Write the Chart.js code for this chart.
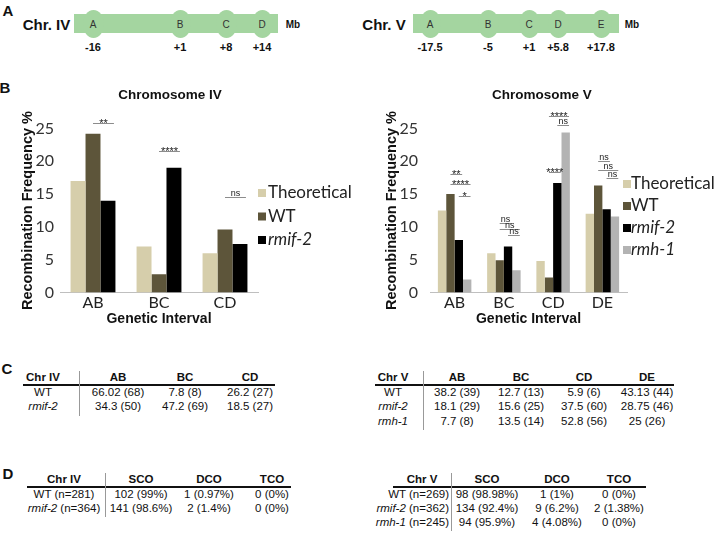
<!DOCTYPE html>
<html>
<head>
<meta charset="utf-8">
<script src="https://cdn.jsdelivr.net/npm/chart.js@4.4.1/dist/chart.umd.min.js"></script>
<style>
  body { margin: 0; background: #fff; }
  #fig { position: relative; width: 720px; height: 535px; overflow: hidden;
         font-family: "Liberation Sans", Arial, sans-serif; color: #111; }
  .lbl { position: absolute; transform: translate(-50%, -50%); white-space: nowrap; line-height: 1; }
  .right { transform: translate(-100%, -50%); }
  .box { position: absolute; }
  canvas { position: absolute; }
</style>
</head>
<body>
<div id="fig">
  <canvas id="chartIV" width="360" height="228" style="left:0;top:100px"></canvas>
  <canvas id="chartV" width="360" height="228" style="left:360px;top:100px"></canvas>
</div>
<script>
// --- Data ---
const intervalsIV = ['AB', 'BC', 'CD'];
const theoreticalIV = [17, 7, 6];
const wtIV = [24.2, 2.8, 9.6];
const rmif2IV = [14, 19, 7.4];

const intervalsV = ['AB', 'BC', 'CD', 'DE'];
const theoreticalV = [12.5, 6, 4.8, 12];
const wtV = [15, 4.9, 2.3, 16.3];
const rmif2V = [8, 7, 16.7, 12.7];
const rmh1V = [2, 3.4, 24.4, 11.6];

const yTicks = [0, 5, 10, 15, 20, 25];

// significance bars: interval index, dataset from/to, height in %, label
const sigIV = [
  { cat: 0, from: 1, to: 2, y: 25.9, text: '**' },
  { cat: 1, from: 1, to: 2, y: 21.6, text: '****' },
  { cat: 2, from: 1, to: 2, y: 14.5, text: 'ns' }
];
const sigV = [
  { cat: 0, from: 1, to: 2, y: 18.1, text: '**' },
  { cat: 0, from: 1, to: 3, y: 16.5, text: '****' },
  { cat: 0, from: 2, to: 3, y: 14.7, text: '*' },
  { cat: 1, from: 1, to: 2, y: 10.6, text: 'ns' },
  { cat: 1, from: 1, to: 3, y: 9.7, text: 'ns' },
  { cat: 1, from: 2, to: 3, y: 8.8, text: 'ns' },
  { cat: 2, from: 1, to: 3, y: 26.9, text: '****' },
  { cat: 2, from: 2, to: 3, y: 25.5, text: 'ns' },
  { cat: 2, from: 1, to: 2, y: 18.4, text: '****' },
  { cat: 3, from: 1, to: 2, y: 20.0, text: 'ns' },
  { cat: 3, from: 1, to: 3, y: 18.6, text: 'ns' },
  { cat: 3, from: 2, to: 3, y: 17.4, text: 'ns' }
];

const lociIV = ['A', 'B', 'C', 'D'];
const mbIV = ['-16', '+1', '+8', '+14'];
const lociV = ['A', 'B', 'C', 'D', 'E'];
const mbV = ['-17.5', '-5', '+1', '+5.8', '+17.8'];

const headCIV = ['Chr IV', 'AB', 'BC', 'CD'];
const rowsCIV = [
  ['WT', '66.02 (68)', '7.8 (8)', '26.2 (27)'],
  ['<i>rmif-2</i>', '34.3 (50)', '47.2 (69)', '18.5 (27)']
];
const headCV = ['Chr V', 'AB', 'BC', 'CD', 'DE'];
const rowsCV = [
  ['WT', '38.2 (39)', '12.7 (13)', '5.9 (6)', '43.13 (44)'],
  ['<i>rmif-2</i>', '18.1 (29)', '15.6 (25)', '37.5 (60)', '28.75 (46)'],
  ['<i>rmh-1</i>', '7.7 (8)', '13.5 (14)', '52.8 (56)', '25 (26)']
];
const headDIV = ['Chr IV', 'SCO', 'DCO', 'TCO'];
const rowsDIV = [
  ['WT (n=281)', '102 (99%)', '1 (0.97%)', '0 (0%)'],
  ['<i>rmif-2</i> (n=364)', '141 (98.6%)', '2 (1.4%)', '0 (0%)']
];
const headDV = ['Chr V', 'SCO', 'DCO', 'TCO'];
const rowsDV = [
  ['WT (n=269)', '98 (98.98%)', '1 (1%)', '0 (0%)'],
  ['<i>rmif-2</i> (n=362)', '134 (92.4%)', '9 (6.2%)', '2 (1.38%)'],
  ['<i>rmh-1</i> (n=245)', '94 (95.9%)', '4 (4.08%)', '0 (0%)']
];

// --- Colours ---
const C_THEO = '#d6ceab', C_WT = '#5d553a', C_RMIF = '#000000', C_RMH = '#b3b3b3';
const GREEN = '#a4d5a0';

const fig = document.getElementById('fig');

// --- HTML helpers ---
function label(html, cx, cy, css, cls) {
  const d = document.createElement('div');
  d.className = 'lbl' + (cls ? ' ' + cls : '');
  d.innerHTML = html;
  d.style.left = cx + 'px';
  d.style.top = cy + 'px';
  Object.assign(d.style, css || {});
  fig.appendChild(d);
  return d;
}
function box(x, y, w, h, css) {
  const d = document.createElement('div');
  d.className = 'box';
  Object.assign(d.style, { left: x + 'px', top: y + 'px', width: w + 'px', height: h + 'px' }, css);
  fig.appendChild(d);
}

// --- Panel letters ---
[['A', 8, 10], ['B', 5, 87], ['C', 7, 368], ['D', 8, 473]].forEach(([t, x, y]) =>
  label(t, x, y, { fontWeight: 'bold', fontSize: '15px' }));

// --- Panel A: chromosome schematics (not to scale) ---
function buildChrom(name, loci, mb, g) {
  label(name, g.nameX, 24, { fontWeight: 'bold', fontSize: '15px' });
  box(g.x0, 14, g.x1 - g.x0, 19, { background: GREEN });
  loci.forEach((l, i) => {
    box(g.pos[i] - 10.5, 9.5, 21, 28, { background: GREEN, borderRadius: '50%' });
    label(l, g.pos[i], 24.5, { fontSize: '10px', color: '#333' });
    label(mb[i], g.pos[i], 46.5, { fontSize: '11px', fontWeight: 'bold' });
  });
  label('Mb', g.mbX, 25, { fontSize: '10px', fontWeight: 'bold' });
}
buildChrom('Chr. IV', lociIV, mbIV, { nameX: 46.5, x0: 74, x1: 278, pos: [93, 180, 226, 262], mbX: 293 });
buildChrom('Chr. V', lociV, mbV, { nameX: 384, x0: 413, x1: 619, pos: [430, 488, 529, 558, 601], mbX: 632 });

// --- Panels C, D: tables ---
function buildTable(head, rows, t) {
  head.forEach((h, j) => label(h, t.cols[j], t.y0, { fontWeight: 'bold', fontSize: '11.5px' }));
  rows.forEach((r, i) => r.forEach((c, j) => {
    const y = t.y0 + 15 + i * t.step;
    if (j === 0 && t.firstRight) label(c, t.firstRight, y, { fontSize: '11.5px' }, 'right');
    else label(c, t.cols[j], y, { fontSize: '11.5px' });
  }));
  box(t.x0, t.y0 + 6, t.x1 - t.x0, 2, { background: '#111' });
  box(t.divX, t.y0 - 7, 1, 15 + rows.length * t.step + 8 - 7, { background: '#999' });
}
buildTable(headCIV, rowsCIV, { cols: [43, 118, 185, 250], y0: 378, step: 14.3, x0: 23, x1: 275, divX: 79 });
buildTable(headCV, rowsCV, { cols: [393, 457, 521, 584, 647], y0: 378, step: 14.3, x0: 375, x1: 674, divX: 423 });
buildTable(headDIV, rowsDIV, { cols: [64, 141, 209, 272], y0: 480, step: 14, x0: 27, x1: 291, divX: 105 });
buildTable(headDV, rowsDV, { cols: [422, 487, 557, 619], y0: 480, step: 14, x0: 393, x1: 646, divX: 451, firstRight: 449 });

// --- Chart titles ---
label('Chromosome IV', 170, 95, { fontWeight: 'bold', fontSize: '13.5px' });
label('Chromosome V', 542, 95, { fontWeight: 'bold', fontSize: '13.5px' });

// --- Chart plugins ---
function sigPlugin(items) {
  return {
    id: 'sig',
    afterDraw(chart) {
      const ctx = chart.ctx, ys = chart.scales.y;
      ctx.save();
      items.forEach(it => {
        const a = chart.getDatasetMeta(it.from).data[it.cat];
        const b = chart.getDatasetMeta(it.to).data[it.cat];
        const x1 = a.x, x2 = b.x + b.width * 0.4;
        const py = Math.round(ys.getPixelForValue(it.y)) + 0.5;
        ctx.strokeStyle = '#8c8c8c';
        ctx.lineWidth = 1;
        ctx.beginPath(); ctx.moveTo(x1, py); ctx.lineTo(x2, py); ctx.stroke();
        const stars = it.text.includes('*');
        ctx.font = stars ? '11px "Liberation Sans"' : '9px "Liberation Sans"';
        ctx.fillStyle = '#222';
        ctx.textAlign = 'center';
        ctx.textBaseline = 'alphabetic';
        ctx.fillText(it.text, (x1 + x2) / 2, stars ? py + 3 : py - 1.5);
      });
      ctx.restore();
    }
  };
}

function legendPlugin(opt) {
  return {
    id: 'sideLegend',
    afterDraw(chart) {
      const ctx = chart.ctx, area = chart.chartArea;
      ctx.save();
      chart.data.datasets.forEach((ds, i) => {
        const cy = area.top + opt.top + i * opt.step;
        ctx.fillStyle = ds.backgroundColor;
        ctx.fillRect(area.right + opt.box, cy - 4, 8, 8);
        ctx.font = (ds.italic ? 'italic ' : '') + '17px Lato';
        ctx.fillStyle = '#222';
        ctx.textAlign = 'left';
        ctx.textBaseline = 'middle';
        ctx.fillText(ds.label, area.right + opt.text, cy);
      });
      ctx.restore();
    }
  };
}

Chart.defaults.font.family = 'Lato';

function makeChart(id, labels, series, sig, lay) {
  return new Chart(document.getElementById(id), {
    type: 'bar',
    data: {
      labels: labels,
      datasets: series.map(s => ({
        label: s.name, data: s.data, backgroundColor: s.color, italic: s.italic,
        categoryPercentage: 0.68, barPercentage: 1, borderWidth: 0
      }))
    },
    options: {
      responsive: false,
      animation: false,
      layout: { padding: { left: 12, right: lay.right, top: 28.5, bottom: 0 } },
      plugins: { legend: { display: false }, tooltip: { enabled: false } },
      scales: {
        x: {
          grid: { display: false, drawTicks: false, tickLength: 0 },
          border: { display: true, color: '#bfbfbf' },
          ticks: { color: '#222', padding: 2, font: { size: 16, lineHeight: 1 } },
          title: {
            display: true, text: 'Genetic Interval', color: '#111', padding: { top: 1, bottom: 0 },
            font: { family: 'Liberation Sans', size: 14, weight: 'bold', lineHeight: 1.2 }
          },
          afterFit: s => { s.height = 35.5; }
        },
        y: {
          min: yTicks[0], max: yTicks[yTicks.length - 1],
          grid: { display: false, drawTicks: false, tickLength: 0 },
          border: { display: false },
          ticks: { stepSize: yTicks[1] - yTicks[0], color: '#333', padding: lay.tickPad, font: { size: 16 } },
          title: {
            display: true, text: 'Recombination Frequency %', color: '#111',
            padding: { top: lay.titlePad, bottom: 0 },
            font: { family: 'Liberation Sans', size: 14.5, weight: 'bold', lineHeight: 1.2 }
          },
          afterFit: s => { s.width = lay.yWidth; }
        }
      }
    },
    plugins: [sigPlugin(sig), legendPlugin(lay.legend)]
  });
}

makeChart('chartIV', intervalsIV, [
  { name: 'Theoretical', data: theoreticalIV, color: C_THEO },
  { name: 'WT', data: wtIV, color: C_WT },
  { name: 'rmif-2', data: rmif2IV, color: C_RMIF, italic: true }
], sigIV, { right: 102, tickPad: 6, titlePad: 7, yWidth: 48, legend: { top: 64.5, step: 23.5, box: 0, text: 10 } });

makeChart('chartV', intervalsV, [
  { name: 'Theoretical', data: theoreticalV, color: C_THEO },
  { name: 'WT', data: wtV, color: C_WT },
  { name: 'rmif-2', data: rmif2V, color: C_RMIF, italic: true },
  { name: 'rmh-1', data: rmh1V, color: C_RMH, italic: true }
], sigV, { right: 93, tickPad: 12, titlePad: 11.3, yWidth: 58, legend: { top: 55.5, step: 22, box: -4, text: 4 } });
</script>
</body>
</html>
